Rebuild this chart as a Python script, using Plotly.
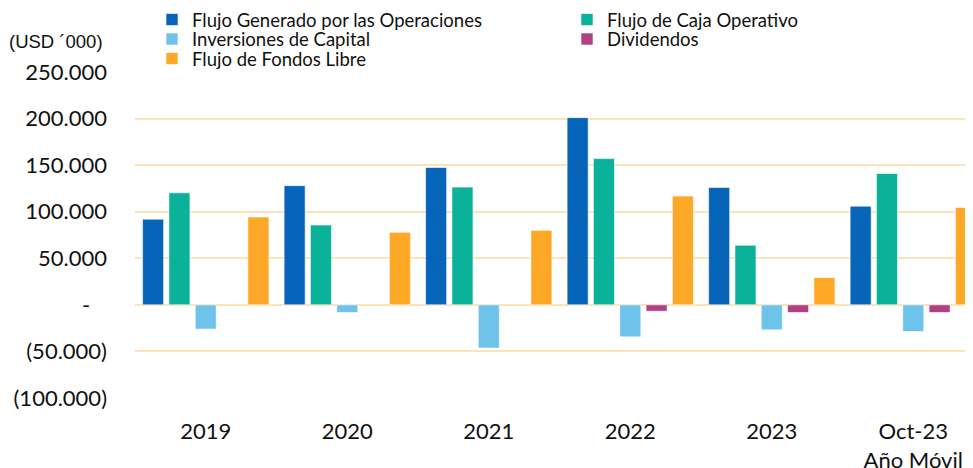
import plotly.graph_objects as go

# categories and series (USD '000)
years = ["2019", "2020", "2021", "2022", "2023", "Oct-23<br>Año Móvil"]

flujo_generado = [92000, 128000, 147500, 201000, 126000, 106000]
flujo_caja_oper = [120300, 85700, 126400, 157000, 64000, 141000]
inversiones = [-26000, -8200, -46400, -34300, -26800, -28600]
dividendos = [None, None, None, -6800, -8200, -8200]
flujo_libre = [94300, 78000, 80000, 116800, 29300, 104600]

tick_vals = [250000, 200000, 150000, 100000, 50000, 0, -50000, -100000]
tick_text = ["250.000", "200.000", "150.000", "100.000", "50.000", "-\u00a0\u00a0\u00a0",
             "(50.000)", "(100.000)"]

# name, values, colour, legend row
series = [
    ("Flujo Generado por las Operaciones", flujo_generado, "#0664B9", "legend"),
    ("Flujo de Caja Operativo", flujo_caja_oper, "#0BB29A", "legend"),
    ("Inversiones de Capital", inversiones, "#6EC3EA", "legend2"),
    ("Dividendos", dividendos, "#AE4083", "legend2"),
    ("Flujo de Fondos Libre", flujo_libre, "#FEA827", "legend3"),
]

fig = go.Figure()

for name, vals, color, leg in series:
    fig.add_trace(go.Bar(
        x=years,
        y=vals,
        name=name,
        legend=leg,
        marker=dict(color=color, line=dict(color="rgba(255,255,255,0.6)", width=1)),
    ))

# page body has an 8px margin, so the figure is 8px smaller than the window
W, H = 965, 460

# one legend per row so the rows sit as tight as in the original
legend_style = dict(
    orientation="h",
    xref="container", yref="container",
    x=144 / W,
    xanchor="left", yanchor="middle",
    entrywidth=370,
    itemwidth=30,
    font=dict(family="Lato", size=18.5, color="#111111"),
    bgcolor="rgba(0,0,0,0)",
)

fig.update_layout(
    width=W,
    height=H,
    barmode="group",
    bargap=0.07,
    bargroupgap=0.2,
    plot_bgcolor="white",
    paper_bgcolor="white",
    font=dict(family="Lato", size=22, color="#111111"),
    margin=dict(l=127, r=0, t=64, b=70, autoexpand=False),
    legend=dict(legend_style, y=1 - 12 / H),
    legend2=dict(legend_style, y=1 - 31.5 / H),
    legend3=dict(legend_style, y=1 - 51 / H),
    annotations=[dict(
        text="(USD ´000)",
        xref="paper", yref="paper",
        x=-0.153, y=1.095, xanchor="left", yanchor="middle",
        showarrow=False,
        font=dict(family="Liberation Sans, Arial", size=18.5, color="#111111"),
    )],
)

fig.update_xaxes(
    range=[-0.5, 5.422],
    showgrid=False,
    showline=False,
    ticklabelstandoff=18,
    tickfont=dict(size=22),
)

fig.update_yaxes(
    range=[-100000, 250000],
    tickvals=tick_vals,
    ticktext=tick_text,
    showgrid=True,
    gridcolor="#FFE3B8",
    gridwidth=2,
    zeroline=True,
    zerolinecolor="#FFE3B8",
    zerolinewidth=2,
    ticklabelstandoff=27,
    tickfont=dict(size=22),
)

fig.write_html("out.html")
